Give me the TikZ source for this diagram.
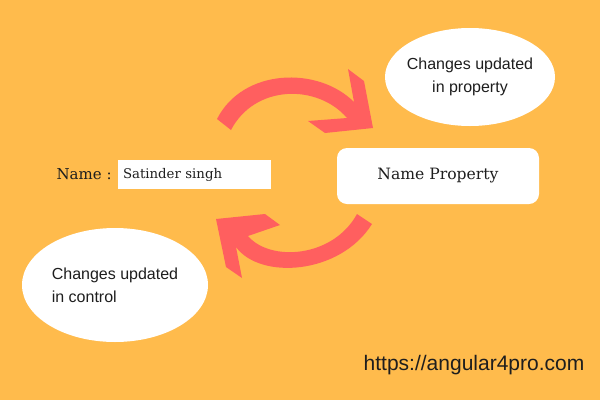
\documentclass[tikz,border=0pt]{standalone}
\usepackage{fontspec}
\setmainfont{DejaVu Serif}
\setsansfont{Liberation Sans}
\usetikzlibrary{shapes.geometric, positioning}
\definecolor{SiteGold}{HTML}{FFBB4C}
\definecolor{SiteCoral}{HTML}{FF5F5F}
\definecolor{SiteInk}{HTML}{1E1E1E}

\begin{document}
\begin{tikzpicture}[x=1pt, y=-1pt,
    bubble/.style={ellipse, fill=white, inner sep=0pt},
    notetext/.style={font=\sffamily\fontsize{16}{23}\selectfont, text=SiteInk},
    swoop/.style={fill=SiteCoral}]
    % Background
    \fill[SiteGold] (0,0) rectangle (600,400);
    \useasboundingbox (0,0) rectangle (600,400);

    % Binding
    \node[fill=white, minimum height=29pt, text width=143pt, inner xsep=5pt, align=left, text=SiteInk, font=\fontsize{13.3}{15}\selectfont] (input) at (194.5,174.5) {Satinder singh};
    \node[left=6pt of input, inner sep=0pt, text=SiteInk, font=\fontsize{15}{18}\selectfont] (label) {Name :};
    \node[fill=white, rounded corners=10pt, minimum width=202pt, minimum height=56pt, text=SiteInk, font=\fontsize{15.6}{18}\selectfont] (prop) at (438,176) {Name Property};

    % Notes
    \node[bubble, minimum width=170pt, minimum height=98pt] (propnote) at (470,77) {};
    \node[notetext, align=center] at (propnote) {Changes updated\\in property};
    \node[bubble, minimum width=186pt, minimum height=114pt] (ctrlnote) at (115,285) {};
    \node[notetext, align=left] at (ctrlnote) {Changes updated\\in control};

    % Arrows
    \fill[swoop] (217,119) .. controls (243,68) and (318,66) .. (354,102)
        -- (348,69) -- (364,81) -- (373,128) -- (325,133) -- (308,121) -- (347,118)
        .. controls (318,84) and (255,84) .. (231,130) -- cycle;
    \fill[swoop] (357,214) .. controls (333,258) and (270,262) .. (248,236)
        -- (280,225) -- (265,214) -- (216,219) -- (226,267) -- (242,278) -- (236,247)
        .. controls (260,280) and (340,275) .. (372,224) -- cycle;

    % Site
    \node[font=\sffamily\fontsize{21}{24}\selectfont, text=SiteInk] (site) at (474,365) {https://angular4pro.com};
\end{tikzpicture}
\end{document}
